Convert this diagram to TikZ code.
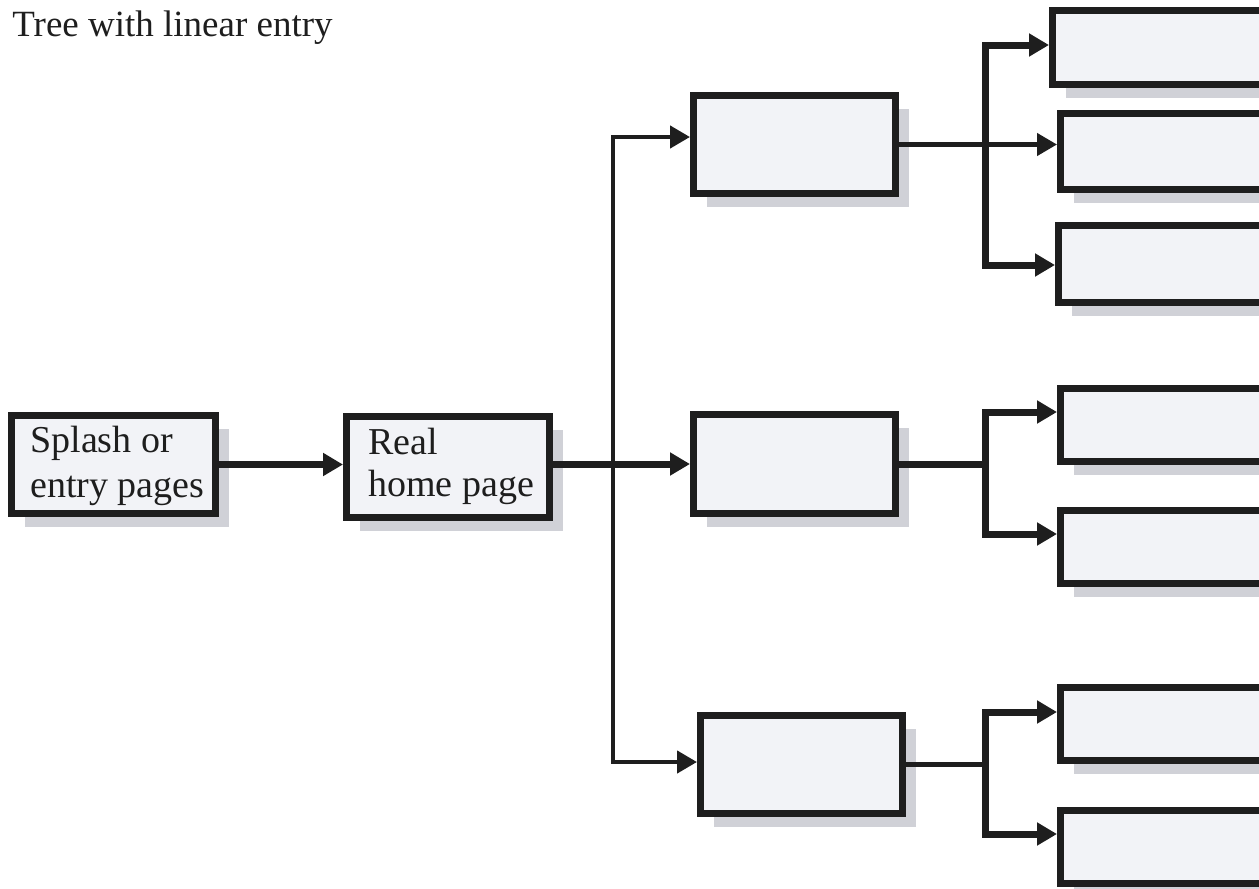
\documentclass[tikz,border=0pt]{standalone}
\usepackage{fontspec}
\setmainfont{Liberation Serif}
\usetikzlibrary{arrows.meta,shadows}
\definecolor{boxfill}{HTML}{F2F3F7}
\definecolor{shadowc}{HTML}{D0D1D7}
\definecolor{ink}{HTML}{1E1E1E}
\begin{document}
\begin{tikzpicture}[x=0.5pt,y=-0.5pt,
  >={Triangle[length=10pt,width=11pt]},
  box/.style={draw=ink, fill=boxfill, line width=3.5pt, rectangle, inner sep=0pt,
    anchor=north west,
    general shadow={fill=shadowc, shadow xshift=6.5pt, shadow yshift=-6.5pt}},
  rbox/.style={box, minimum width=115pt},
  conn/.style={draw=ink, line width=2.2pt, ->},
  thickconn/.style={draw=ink, line width=3.5pt, ->},
  lbl/.style={anchor=base west, inner sep=0pt, text=ink, font=\fontsize{19}{22}\selectfont}]
\useasboundingbox (0,0) rectangle (1259,889);
\clip (0,0) rectangle (1259,889);
% boxes
\node[box, minimum width=102pt, minimum height=49pt] (splash) at (8,412) {};
\node[box, minimum width=101.5pt, minimum height=50.5pt] (real) at (343,413) {};
\node[box, minimum width=101pt, minimum height=49pt] (m1) at (690,92) {};
\node[box, minimum width=101pt, minimum height=49.5pt] (m2) at (690,411) {};
\node[box, minimum width=101pt, minimum height=49pt] (m3) at (697,712) {};
\node[rbox, minimum height=37pt] (r1) at (1049,7) {};
\node[rbox, minimum height=38pt] (r2) at (1057,110) {};
\node[rbox, minimum height=38.5pt] (r3) at (1055,222) {};
\node[rbox, minimum height=36.5pt] (r4) at (1057,385) {};
\node[rbox, minimum height=36.5pt] (r5) at (1057,507) {};
\node[rbox, minimum height=36.5pt] (r6) at (1057,684) {};
\node[rbox, minimum height=36.5pt] (r7) at (1057,807) {};
% texts
\node[lbl, font=\fontsize{18.5}{22}\selectfont] (title) at (12,36) {Tree with linear entry};
\node[lbl] (splashA) at (30,452) {Splash or};
\node[lbl] (splashB) at (30,497) {entry pages};
\node[lbl] (realA) at (368,454) {Real};
\node[lbl] (realB) at (368,496) {home page};
% coordinates
\coordinate (tt) at (613,137);
\coordinate (tb) at (613,762);
\coordinate (ua) at (985,45);
\coordinate (ub) at (985,265);
\coordinate (va) at (985,412);
\coordinate (vb) at (985,534);
\coordinate (wa) at (985,712);
\coordinate (wb) at (985,834);
% connectors
\draw[thickconn] (splash.east) -- (splash.east -| real.west);
\draw[thickconn] (m2.west -| real.east) -- (m2.west);
\draw[conn] (tt |- m2.west) -- (tt) -- (tt -| m1.west);
\draw[conn] (tt |- m2.west) -- (tb) -- (tb -| m3.west);
\draw[conn] (m1.east) -- (m1.east -| r2.west);
\draw[thickconn,<->] (ua -| r1.west) -- (ua) -- (ub) -- (ub -| r3.west);
\draw[thickconn,-] (m2.east) -- (m2.east -| va);
\draw[thickconn,<->] (va -| r4.west) -- (va) -- (vb) -- (vb -| r5.west);
\draw[conn,-] (m3.east) -- (m3.east -| wa);
\draw[thickconn,<->] (wa -| r6.west) -- (wa) -- (wb) -- (wb -| r7.west);
\end{tikzpicture}
\end{document}
